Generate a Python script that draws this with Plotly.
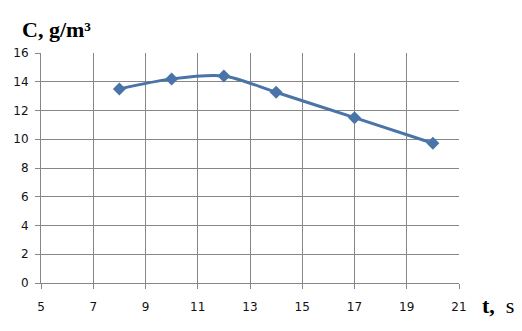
import plotly.graph_objects as go

t_values = [8, 10, 12, 14, 17, 20]
c_values = [13.5, 14.2, 14.4, 13.27, 11.5, 9.72]
x_ticks = [5, 7, 9, 11, 13, 15, 17, 19, 21]
y_ticks = [0, 2, 4, 6, 8, 10, 12, 14, 16]

color = "#4a74a8"
grid = "#878787"

fig = go.Figure()
fig.add_trace(go.Scatter(
    x=t_values, y=c_values, mode="lines+markers",
    line=dict(color=color, width=3, shape="spline", smoothing=0.8),
    marker=dict(symbol="diamond", size=10, color=color),
    showlegend=False,
))
fig.update_xaxes(
    range=[5, 21], tickvals=x_ticks, showgrid=True, gridcolor=grid, gridwidth=1,
    showline=True, linecolor=grid, linewidth=1, ticks="outside", ticklen=5,
    tickcolor=grid, zeroline=False, ticklabelstandoff=8,
    tickfont=dict(family="DejaVu Sans", size=12, color="#111"),
)
fig.update_yaxes(
    range=[0, 16], tickvals=y_ticks, showgrid=True, gridcolor=grid, gridwidth=1,
    showline=True, linecolor=grid, linewidth=1, ticks="outside", ticklen=5,
    tickcolor=grid, zeroline=False, ticklabelstandoff=4,
    tickfont=dict(family="DejaVu Sans", size=12, color="#111"),
)
fig.add_annotation(
    text="<b>C, g/m³</b>", xref="paper", yref="paper", x=-0.05, y=1.10,
    xanchor="left", yanchor="middle", showarrow=False,
    font=dict(family="Liberation Serif", size=22, color="#000"),
)
fig.add_annotation(
    text="<b>t,</b>  s", xref="paper", yref="paper", x=1.05, y=-0.096,
    xanchor="left", yanchor="middle", showarrow=False,
    font=dict(family="Liberation Serif", size=22, color="#000"),
)
fig.update_layout(
    width=522, height=331, margin=dict(l=41, r=63, t=53, b=48),
    plot_bgcolor="white", paper_bgcolor="white",
)
fig.write_html("out.html")
